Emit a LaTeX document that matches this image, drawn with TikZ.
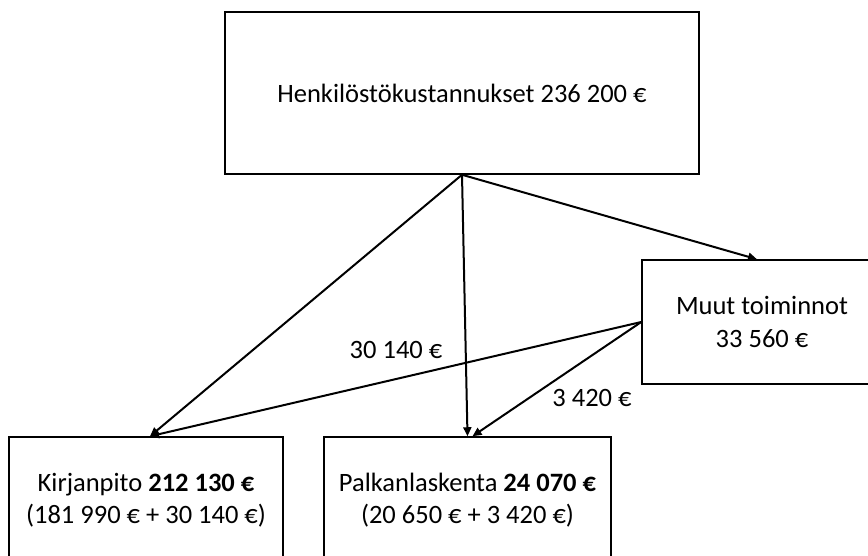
\documentclass[tikz,border=0pt]{standalone}
\usepackage{fontspec}
\setmainfont{Carlito}
\usetikzlibrary{arrows.meta}
\begin{document}
\begin{tikzpicture}[x=1pt,y=-1pt,
  box/.style={draw=black,line width=1.5pt,rectangle,align=center,inner sep=0pt,font=\fontsize{26.5}{32.5}\selectfont},
  conn/.style={draw=black,line width=2pt,-{Triangle[length=9pt,width=8pt]}},
  lbl/.style={font=\fontsize{26.5}{32.5}\selectfont,inner sep=0pt}]
\clip (0,0) rectangle (868,556);
\fill[white] (0,0) rectangle (868,556);
\node[box,minimum width=474pt,minimum height=162pt] (top) at (462,93) {Henkilöstökustannukset 236 200 €};
\node[box,minimum width=240pt,minimum height=124pt] (muut) at (762,322) {Muut toiminnot\\33 560 €};
\node[box,minimum width=274pt,minimum height=126pt] (kir) at (146,500) {Kirjanpito \textbf{212 130 €}\\(181 990 € + 30 140 €)};
\node[box,minimum width=287pt,minimum height=126pt] (palk) at (467.5,500) {Palkanlaskenta \textbf{24 070 €}\\(20 650 € + 3 420 €)};
\draw[conn] (top.south) -- ([xshift=4pt]kir.north);
\draw[conn] (top.south) -- (palk.north);
\draw[conn] (top.south) -- ([xshift=-5pt]muut.north);
\draw[conn] (muut.west) -- ([xshift=4pt]kir.north);
\draw[conn] (muut.west) -- ([xshift=5pt]palk.north);
\node[lbl] (l1) at (396,350) {30 140 €};
\node[lbl] (l2) at (592,398) {3 420 €};
\end{tikzpicture}
\end{document}
